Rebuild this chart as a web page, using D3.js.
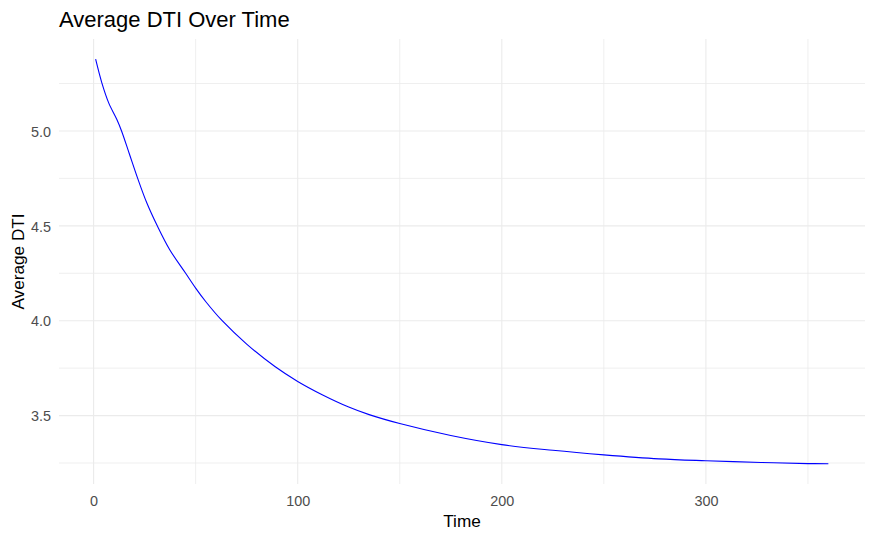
<!DOCTYPE html>
<html>
<head>
<meta charset="utf-8">
<script src="https://cdn.jsdelivr.net/npm/d3@7"></script>
<style>
  html, body { margin: 0; padding: 0; background: #fff; }
  svg { display: block; font-family: "Liberation Sans", Arial, sans-serif; }
</style>
</head>
<body>
<svg id="chart" width="875" height="540"></svg>
<script>
// Data
const times  = [1, 4, 7.4, 11.4, 13.7, 17.5, 21.6, 26.1, 31.2, 37.3, 45.1, 50, 55, 63, 75, 89, 100, 112, 125, 135, 150, 175, 200, 225, 250, 277, 300, 327, 350, 360];
const avgDTI = [5.378, 5.255, 5.148, 5.06, 5.00, 4.88, 4.75, 4.62, 4.50, 4.374, 4.25, 4.172, 4.10, 4.00, 3.877, 3.757, 3.68, 3.61, 3.545, 3.505, 3.458, 3.395, 3.347, 3.317, 3.293, 3.272, 3.262, 3.253, 3.247, 3.246];
const xTicks = [0, 100, 200, 300];
const xMinor = [50, 150, 250, 350];
const yTicks = [3.5, 4.0, 4.5, 5.0];
const yMinor = [3.25, 3.75, 4.25, 4.75, 5.25];
const titleText = "Average DTI Over Time";
const xLabel = "Time";
const yLabel = "Average DTI";

const data = times.map((t, i) => ({ t, v: avgDTI[i] }));

const svg = d3.select("#chart");
const panel = { left: 59, right: 865, top: 39, bottom: 484 };

// ggplot-style 5% expansion
const xExt = d3.extent(times), yExt = d3.extent(avgDTI);
const xPad = (xExt[1] - xExt[0]) * 0.05, yPad = (yExt[1] - yExt[0]) * 0.05;
const x = d3.scaleLinear().domain([xExt[0] - xPad, xExt[1] + xPad]).range([panel.left, panel.right]);
const y = d3.scaleLinear().domain([yExt[0] - yPad, yExt[1] + yPad]).range([panel.bottom, panel.top]);

const grid = svg.append("g");
// minor grid
grid.selectAll(".xm").data(xMinor).join("line")
  .attr("x1", d => x(d)).attr("x2", d => x(d))
  .attr("y1", panel.top).attr("y2", panel.bottom)
  .attr("stroke", "#EBEBEB").attr("stroke-width", 0.8);
grid.selectAll(".ym").data(yMinor).join("line")
  .attr("y1", d => y(d)).attr("y2", d => y(d))
  .attr("x1", panel.left).attr("x2", panel.right)
  .attr("stroke", "#EBEBEB").attr("stroke-width", 0.8);
// major grid
grid.selectAll(".xM").data(xTicks).join("line")
  .attr("x1", d => x(d)).attr("x2", d => x(d))
  .attr("y1", panel.top).attr("y2", panel.bottom)
  .attr("stroke", "#EBEBEB").attr("stroke-width", 1.1);
grid.selectAll(".yM").data(yTicks).join("line")
  .attr("y1", d => y(d)).attr("y2", d => y(d))
  .attr("x1", panel.left).attr("x2", panel.right)
  .attr("stroke", "#EBEBEB").attr("stroke-width", 1.1);

// axes (tick labels only, ggplot theme_minimal)
const xAxis = d3.axisBottom(x).tickValues(xTicks).tickSize(0).tickPadding(0).tickFormat(d3.format("d"));
const gx = svg.append("g").attr("transform", `translate(0,${panel.bottom})`).call(xAxis);
gx.select(".domain").remove();
gx.selectAll("text").attr("dy", null).attr("y", 22)
  .attr("fill", "#4D4D4D").style("font-size", "14.4px").style("font-family", "'Liberation Sans', Arial, sans-serif");

const yAxis = d3.axisLeft(y).tickValues(yTicks).tickSize(0).tickPadding(0).tickFormat(d3.format(".1f"));
const gy = svg.append("g").attr("transform", `translate(${panel.left},0)`).call(yAxis);
gy.select(".domain").remove();
gy.selectAll("text").attr("x", -8).attr("dy", "0.36em")
  .attr("fill", "#4D4D4D").style("font-size", "14.4px").style("font-family", "'Liberation Sans', Arial, sans-serif");

// line
const line = d3.line().x(d => x(d.t)).y(d => y(d.v)).curve(d3.curveCatmullRom.alpha(0.5));
svg.append("path").datum(data)
  .attr("d", line).attr("fill", "none")
  .attr("stroke", "#0000FF").attr("stroke-width", 1.1);

// titles
svg.append("text").attr("x", 59).attr("y", 27)
  .style("font-size", "22px").attr("fill", "#000").text(titleText);
svg.append("text").attr("x", (panel.left + panel.right) / 2).attr("y", 527)
  .attr("text-anchor", "middle").style("font-size", "17.2px").attr("fill", "#000").text(xLabel);
svg.append("text").attr("transform", `translate(24,${(panel.top + panel.bottom) / 2}) rotate(-90)`)
  .attr("text-anchor", "middle").style("font-size", "17.2px").attr("fill", "#000").text(yLabel);
</script>
</body>
</html>
